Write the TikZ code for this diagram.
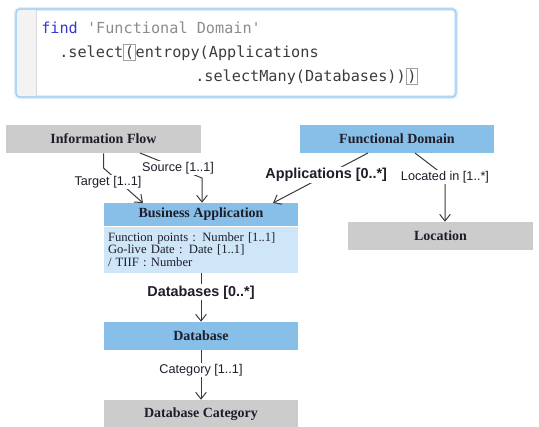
\documentclass[tikz,border=0pt]{standalone}
\usepackage{fontspec}
\setmainfont{Liberation Serif}
\setsansfont{Liberation Sans}
\setmonofont{DejaVu Sans Mono}
\usepackage{tikz}
\usetikzlibrary{arrows.meta, positioning}
\tikzset{>={Straight Barb[length=5pt,width=8pt]}}

\definecolor{boxgray}{HTML}{CCCCCC}
\definecolor{boxblue}{HTML}{88BFE8}
\definecolor{bodyblue}{HTML}{CFE6F8}
\definecolor{linegray}{HTML}{3A3A3A}
\definecolor{txtdark}{HTML}{1E1E2A}
\definecolor{codeframe}{HTML}{9CCBF0}
\definecolor{codeglow}{HTML}{DCEDFB}
\definecolor{gutter}{HTML}{F3F3F3}
\definecolor{keyblue}{HTML}{3636D0}
\definecolor{strgray}{HTML}{8C8C8C}
\definecolor{codetext}{HTML}{3C3C3C}
\definecolor{parenframe}{HTML}{A0A0A0}

\newcommand{\pmatch}[1]{{\fboxsep=0.6pt\fboxrule=0.6pt\color{parenframe}\fbox{\color{codetext}#1}}}

\begin{document}
\begin{tikzpicture}[x=0.75pt, y=-0.75pt,
    title/.style={inner sep=0pt, text=txtdark, font=\fontsize{10.5}{12}\selectfont\bfseries},
    graybox/.style={title, fill=boxgray, minimum height=21pt},
    bluebox/.style={title, fill=boxblue, minimum height=21pt},
    attrbox/.style={fill=bodyblue, inner xsep=3pt, inner ysep=0pt, align=left, text=txtdark,
        text width=139.5pt, font=\fontsize{9.5}{9.4}\selectfont},
    code/.style={inner sep=0pt, text=codetext, font=\ttfamily\fontsize{11.4}{13}\selectfont},
    lbl/.style={fill=white, inner sep=1pt, text=txtdark, font=\sffamily\fontsize{9.5}{11}\selectfont},
    blbl/.style={lbl, font=\sffamily\bfseries\fontsize{10.8}{12}\selectfont},
    conn/.style={->, draw=linegray, line width=0.75pt}]

    \useasboundingbox (0,0) rectangle (539,426);
    \clip (0,0) rectangle (539,426);

    % query box
    \draw[codeglow, line width=3pt, rounded corners=3pt] (16,9) rectangle (456,97);
    \fill[gutter] (17,10) rectangle (36,96);
    \draw[black!15] (36,10) -- (36,96);
    \draw[codeframe, line width=0.9pt, rounded corners=3pt] (16,9) rectangle (456,97);
    \node[code, anchor=base west] (codeA) at (41,33) {{\color{keyblue}find} {\color{strgray}'Functional Domain'}};
    \node[code, anchor=base west] (codeB) at (59,57) {.select\pmatch{(}entropy(Applications};
    \node[code, anchor=base west] (codeC) at (195,81) {.selectMany(Databases))\pmatch{)}};

    % classes
    \node[graybox, minimum width=146.25pt] (infoflow) at (103.5,139) {Information Flow};
    \node[bluebox, minimum width=145.5pt]  (fdomain)  at (397,139)   {Functional Domain};
    \node[bluebox, minimum width=145.5pt, minimum height=17.25pt] (bizapp) at (201,214.5) {Business Application};
    \node[attrbox, minimum height=34.5pt, below=0pt of bizapp] (bizattr)
        {Function points : Number [1..1]\\Go-live Date : Date [1..1]\\/ TIIF : Number};
    \node[graybox, minimum width=138.75pt] (location) at (440.5,236) {Location};
    \node[bluebox, minimum width=145.5pt]  (database) at (201,336)   {Database};
    \node[graybox, minimum width=145.5pt]  (dbcat)    at (201,414)   {Database Category};

    % bends and ends
    \coordinate (tgtbend) at (103.5,168);
    \coordinate (tgtin)   at (143,203);
    \coordinate (srcout)  at (140,153);
    \coordinate (srcbend) at (202,178);
    \coordinate (appout)  at (368,153);
    \coordinate (appin)   at (273,203);
    \coordinate (locout)  at (415,153);
    \coordinate (locbend) at (445,176);

    % associations
    \draw[conn] (infoflow.south) -- (tgtbend) -- (tgtin);
    \node[lbl] (tgtlbl) at (108,182) {Target [1..1]};

    \draw[conn] (srcout) -- (srcbend) -- (srcbend |- bizapp.north);
    \node[lbl] (srclbl) at (178,168) {Source [1..1]};

    \draw[conn] (appout) -- node[blbl, pos=0.44]{Applications [0..*]} (appin);

    \draw[conn] (locout) -- (locbend) -- (locbend |- location.north);
    \node[lbl] (loclbl) at (445,177) {Located in [1..*]};

    \draw[conn] (bizattr.south) -- node[blbl, pos=0.4]{Databases [0..*]} (database.north);
    \draw[conn] (database.south) -- node[lbl, pos=0.4]{Category [1..1]} (dbcat.north);

\end{tikzpicture}
\end{document}
